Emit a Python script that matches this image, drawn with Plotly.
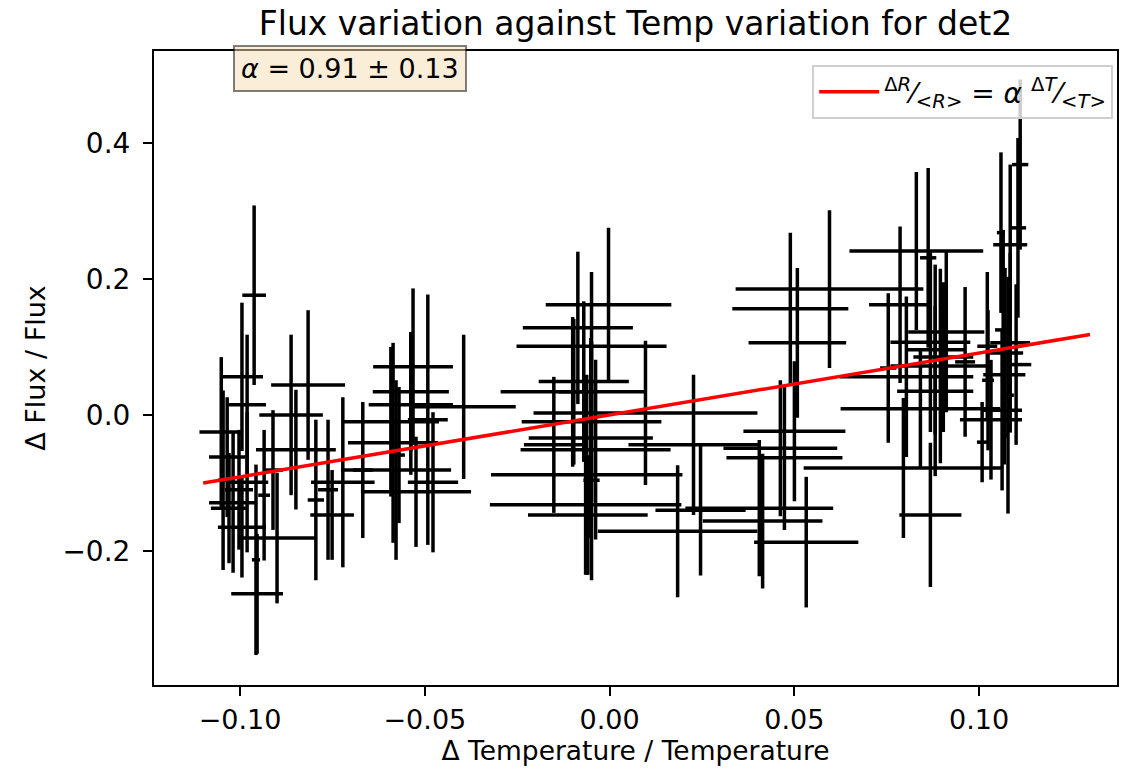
import plotly.graph_objects as go

# ---- data ----
dT = [-0.0962, -0.0995, -0.0816, -0.0981, -0.0862, -0.1051, -0.0849, -0.1035, -0.0981, -0.1003,
      -0.1019, -0.1030, -0.0995, -0.0900, -0.0954, -0.0957, -0.0911, -0.0795, -0.0935, -0.0762,
      -0.1046,
      -0.0532, -0.0538, -0.0538, -0.0592, -0.0586, -0.0578, -0.0722, -0.0478, -0.0524, -0.0751,
      -0.0395, -0.0492, -0.0668, -0.0570,
      -0.0003, -0.0086, -0.0049, -0.0070, -0.0100, 0.0097, -0.0049, -0.0051, -0.0038, -0.0062,
      -0.0065, -0.0059, 0.0184, -0.0151, -0.0097, -0.0049, 0.0227, 0.0246,
      0.0595, 0.0489, 0.0508, 0.0500, 0.0462, 0.0473, 0.0405, 0.0414, 0.0532,
      0.0830, 0.0786, 0.0911, 0.0868, 0.0881, 0.0903, 0.0895, 0.0803, 0.0881, 0.0841,
      0.0795, 0.0868, 0.0962, 0.1022, 0.0862, 0.0754,
      0.1111, 0.1105, 0.1059, 0.1084, 0.1065, 0.1084, 0.1070, 0.1100, 0.1068, 0.1062,
      0.1032, 0.1078, 0.1024, 0.1008]
dF = [0.176, 0.056, 0.044, 0.015, 0.000, -0.025, -0.051, -0.062, -0.099, -0.110,
      -0.129, -0.137, -0.165, -0.181, -0.263, -0.213, -0.081, -0.125, -0.118, -0.110,
      -0.096,
      0.071, 0.034, 0.015, -0.010, -0.041, -0.081, -0.099, -0.099, -0.113, -0.147,
      0.012, -0.007, -0.081, -0.059,
      0.162, 0.128, 0.101, 0.049, 0.034, 0.003, -0.010, -0.034, -0.051, -0.088,
      -0.132, -0.147, -0.171, -0.044, 0.034, -0.096, -0.044, -0.140,
      0.185, 0.156, 0.106, -0.024, -0.049, -0.063, -0.137, -0.156, -0.187,
      0.241, 0.162, 0.122, 0.107, 0.096, 0.085, 0.072, 0.056, 0.035, 0.009,
      -0.078, -0.147, 0.078, 0.101, 0.231, 0.069,
      0.368, 0.275, 0.268, 0.250, 0.125, 0.106, 0.091, 0.074, 0.059, 0.007,
      -0.007, 0.029, 0.051, -0.040]
dT_err = [0.0032, 0.0057, 0.0100, 0.0051, 0.0086, 0.0059, 0.0108, 0.0049, 0.0057, 0.0038,
          0.0065, 0.0049, 0.0065, 0.0103, 0.0070, 0.0011, 0.0027, 0.0022, 0.0016, 0.0027,
          0.0014,
          0.0108, 0.0103, 0.0114, 0.0130, 0.0122, 0.0149, 0.0086, 0.0068, 0.0149, 0.0059,
          0.0141, 0.0054, 0.0027, 0.0016,
          0.0170, 0.0149, 0.0203, 0.0122, 0.0195, 0.0303, 0.0189, 0.0168, 0.0203, 0.0259,
          0.0259, 0.0162, 0.0216, 0.0081, 0.0041, 0.0022, 0.0176, 0.0122,
          0.0254, 0.0157, 0.0132, 0.0138, 0.0154, 0.0157, 0.0200, 0.0162, 0.0141,
          0.0181, 0.0084, 0.0103, 0.0108, 0.0081, 0.0081, 0.0135, 0.0181, 0.0103, 0.0216,
          0.0270, 0.0084, 0.0027, 0.0027, 0.0022, 0.0022,
          0.0022, 0.0022, 0.0011, 0.0046, 0.0022, 0.0054, 0.0049, 0.0041, 0.0057, 0.0054,
          0.0084, 0.0016, 0.0016, 0.0014]
dF_err = [0.132, 0.109, 0.110, 0.103, 0.118, 0.110, 0.088, 0.088, 0.103, 0.088,
          0.103, 0.081, 0.074, 0.096, 0.088, 0.140, 0.088, 0.118, 0.096, 0.103,
          0.132,
          0.115, 0.088, 0.103, 0.110, 0.147, 0.132, 0.125, 0.103, 0.081, 0.066,
          0.106, 0.184, 0.100, 0.100,
          0.113, 0.112, 0.109, 0.118, 0.110, 0.106, 0.118, 0.147, 0.132, 0.147,
          0.103, 0.088, 0.097, 0.100, 0.107, 0.147, 0.103, 0.096,
          0.116, 0.112, 0.110, 0.103, 0.100, 0.106, 0.100, 0.099, 0.096,
          0.116, 0.115, 0.118, 0.132, 0.125, 0.110, 0.143, 0.118, 0.125, 0.088,
          0.103, 0.106, 0.110, 0.109, 0.132, 0.110,
          0.125, 0.132, 0.118, 0.118, 0.147, 0.132, 0.125, 0.118, 0.132, 0.118,
          0.088, 0.174, 0.103, 0.059]

alpha = 0.91
alpha_err = 0.13
fit_x = [-0.11, 0.13]
fit_y = [alpha * v for v in fit_x]

x_ticks = [-0.10, -0.05, 0.00, 0.05, 0.10]
y_ticks = [-0.2, 0.0, 0.2, 0.4]

FONT = "DejaVu Sans"

fig = go.Figure()
fig.add_trace(go.Scatter(
    x=dT, y=dF, mode="markers",
    marker=dict(size=1, color="rgba(0,0,0,0)"),
    error_x=dict(type="data", array=dT_err, visible=True, color="black", thickness=3.5, width=0),
    error_y=dict(type="data", array=dF_err, visible=True, color="black", thickness=3.5, width=0),
    showlegend=False, hoverinfo="skip"))
fig.add_trace(go.Scatter(
    x=fit_x, y=fit_y, mode="lines",
    line=dict(color="red", width=3.5),
    name="<sup>Δ<i>R</i></sup>⁄<sub>&lt;<i>R</i>&gt;</sub> = <i>α</i> <sup>Δ<i>T</i></sup>⁄<sub>&lt;<i>T</i>&gt;</sub>"))

fig.update_layout(
    width=1119, height=758,
    margin=dict(l=146, r=10, t=43, b=81, pad=0),
    paper_bgcolor="white", plot_bgcolor="white",
    font=dict(family=FONT, size=27, color="black"),
    title=dict(text="Flux variation against Temp variation for det2",
               x=0.5, xref="paper", xanchor="center",
               y=0.979, yref="container", yanchor="middle", automargin=False,
               font=dict(size=33, family=FONT, color="black")),
    legend=dict(x=0.996, y=0.978, xanchor="right", yanchor="top",
                bgcolor="rgba(255,255,255,0.8)", bordercolor="#d0d0d0", borderwidth=2,
                font=dict(size=28, family=FONT), itemwidth=60),
    annotations=[dict(
        text="<i>α</i> = 0.91 ± 0.13", xref="paper", yref="paper",
        x=0.2035, y=0.973, xanchor="center", yanchor="middle", showarrow=False,
        font=dict(size=27, family=FONT, color="black"),
        bgcolor="rgba(245,222,179,0.5)", bordercolor="rgba(0,0,0,0.5)",
        borderwidth=2, borderpad=6)],
)
fig.update_xaxes(
    range=[-0.1233, 0.1373], tickvals=x_ticks, tickformat=".2f", automargin=False,
    showgrid=False, zeroline=False, showline=True, mirror=True,
    linecolor="black", linewidth=2, ticks="outside", ticklen=9, tickwidth=2,
    tickcolor="black", tickfont=dict(size=27, family=FONT), ticklabelstandoff=1,
    title=dict(text="Δ Temperature / Temperature", font=dict(size=26.5, family=FONT), standoff=6))
fig.update_yaxes(
    range=[-0.397, 0.535], tickvals=y_ticks, tickformat=".1f", automargin=False,
    showgrid=False, zeroline=False, showline=True, mirror=True,
    linecolor="black", linewidth=2, ticks="outside", ticklen=9, tickwidth=2,
    tickcolor="black", tickfont=dict(size=28, family=FONT), ticklabelstandoff=7,
    title=dict(text="Δ Flux / Flux", font=dict(size=27, family=FONT), standoff=9))

fig.write_html("out.html")
